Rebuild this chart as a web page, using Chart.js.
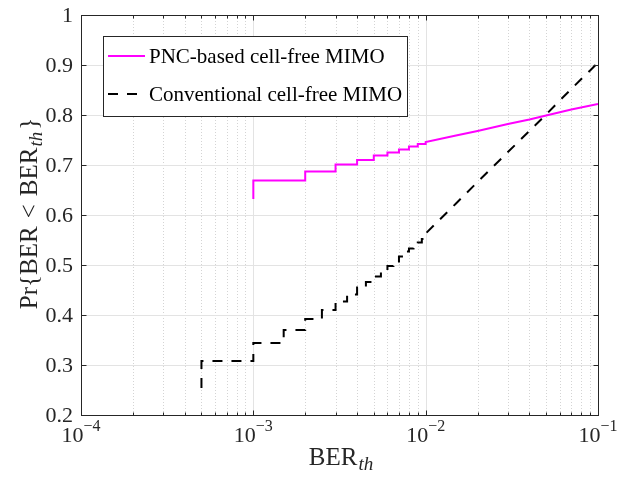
<!DOCTYPE html>
<html>
<head>
<meta charset="utf-8">
<script src="https://cdn.jsdelivr.net/npm/chart.js@4/dist/chart.umd.min.js"></script>
<style>
  body { margin: 0; background: #fff; }
</style>
</head>
<body>
<canvas id="cdf-chart" width="631" height="479"></canvas>
<script>
// PNC-based curve: start of the vertical jump, step points, then the dense tail
const pncStartY = 0.632;
const pncStepX = [1e-3, 2e-3, 3e-3, 4e-3, 5e-3, 6e-3, 7e-3, 8e-3, 9e-3, 1e-2];
const pncStepY = [0.669, 0.687, 0.701, 0.710, 0.719, 0.725, 0.731, 0.737, 0.742, 0.746];
const pncTailX = [1.5e-2, 2e-2, 3e-2, 4e-2, 5e-2, 7e-2, 1e-1];
const pncTailY = [0.759, 0.768, 0.782, 0.791, 0.799, 0.811, 0.822];

// conventional curve
const convStartY = 0.254;
const convStepX = [5e-4, 1e-3, 1.5e-3, 2e-3, 2.5e-3, 3e-3, 3.5e-3, 4e-3, 4.5e-3, 5e-3,
  5.5e-3, 6e-3, 6.5e-3, 7e-3, 7.5e-3, 8e-3, 8.5e-3, 9e-3, 9.5e-3, 1e-2];
const convStepY = [0.308, 0.344, 0.370, 0.392, 0.410, 0.427, 0.441, 0.455, 0.466, 0.477,
  0.488, 0.498, 0.507, 0.517, 0.527, 0.533, 0.539, 0.545, 0.552, 0.563];
const convTailX = [1.2e-2, 1.5e-2, 2e-2, 2.5e-2, 3e-2, 4e-2, 5e-2, 6e-2, 7e-2, 8e-2, 9e-2, 1e-1];
const convTailY = [0.590, 0.623, 0.666, 0.699, 0.726, 0.768, 0.801, 0.829, 0.852, 0.872, 0.889, 0.905];

const xDecades = [1e-4, 1e-3, 1e-2, 1e-1];
const xExponents = ["-4", "-3", "-2", "-1"];
const yTicks = [0.2, 0.3, 0.4, 0.5, 0.6, 0.7, 0.8, 0.9, 1];
const yTickLabels = ["0.2", "0.3", "0.4", "0.5", "0.6", "0.7", "0.8", "0.9", "1"];

const seriesNames = ["PNC-based cell-free MIMO", "Conventional cell-free MIMO"];

const SERIF = '"Liberation Serif", "DejaVu Serif", serif';
const AXIS_COLOR = "#262626";
const TITLE_FONT = "25px " + SERIF;
const SUB_FONT = "italic 19px " + SERIF;

function stairs(startY, stepX, stepY, tailX, tailY) {
  const pts = [{ x: stepX[0], y: startY }];
  stepX.forEach((x, i) => {
    if (i > 0) pts.push({ x: x, y: stepY[i - 1] });
    pts.push({ x: x, y: stepY[i] });
  });
  tailX.forEach((x, i) => pts.push({ x: x, y: tailY[i] }));
  return pts;
}

function minorTicks() {
  const out = [];
  for (let d = 0; d < xDecades.length - 1; d++) {
    for (let m = 2; m <= 9; m++) out.push(xDecades[d] * m);
  }
  return out;
}

// draws a run of [text, font, dx-before, dy] pieces starting at x, returns total width
function drawPieces(ctx, pieces, x, y, measureOnly) {
  let cur = x;
  pieces.forEach(([txt, font, gap, dy]) => {
    ctx.font = font;
    cur += gap;
    if (!measureOnly) ctx.fillText(txt, cur, y + dy);
    cur += ctx.measureText(txt).width;
  });
  return cur - x;
}

const matlabAxes = {
  id: "matlabAxes",
  beforeDatasetsDraw(chart) {
    const { ctx, chartArea: a, scales } = chart;
    ctx.save();
    ctx.lineWidth = 1;
    // minor grid, dotted
    ctx.strokeStyle = "#d4d4d4";
    ctx.setLineDash([1, 2]);
    minorTicks().forEach((v) => {
      const px = Math.round(scales.x.getPixelForValue(v)) + 0.5;
      ctx.beginPath();
      ctx.moveTo(px, a.top);
      ctx.lineTo(px, a.bottom);
      ctx.stroke();
    });
    // major grid
    ctx.setLineDash([]);
    ctx.strokeStyle = "#e3e3e3";
    xDecades.forEach((v) => {
      const px = Math.round(scales.x.getPixelForValue(v)) + 0.5;
      ctx.beginPath();
      ctx.moveTo(px, a.top);
      ctx.lineTo(px, a.bottom);
      ctx.stroke();
    });
    yTicks.forEach((v) => {
      const py = Math.round(scales.y.getPixelForValue(v)) + 0.5;
      ctx.beginPath();
      ctx.moveTo(a.left, py);
      ctx.lineTo(a.right, py);
      ctx.stroke();
    });
    ctx.restore();
  },
  afterDatasetsDraw(chart) {
    const { ctx, chartArea: a, scales } = chart;
    const L = Math.round(a.left) + 0.5, R = Math.round(a.right) + 0.5;
    const T = Math.round(a.top) + 0.5, B = Math.round(a.bottom) + 0.5;
    ctx.save();
    ctx.strokeStyle = AXIS_COLOR;
    ctx.lineWidth = 1;
    ctx.strokeRect(L, T, R - L, B - T);

    // tick marks, inward, on all four sides
    ctx.beginPath();
    xDecades.forEach((v) => {
      const px = Math.round(scales.x.getPixelForValue(v)) + 0.5;
      ctx.moveTo(px, B); ctx.lineTo(px, B - 5);
      ctx.moveTo(px, T); ctx.lineTo(px, T + 5);
    });
    minorTicks().forEach((v) => {
      const px = Math.round(scales.x.getPixelForValue(v)) + 0.5;
      ctx.moveTo(px, B); ctx.lineTo(px, B - 3);
      ctx.moveTo(px, T); ctx.lineTo(px, T + 3);
    });
    yTicks.forEach((v) => {
      const py = Math.round(scales.y.getPixelForValue(v)) + 0.5;
      ctx.moveTo(L, py); ctx.lineTo(L + 5, py);
      ctx.moveTo(R, py); ctx.lineTo(R - 5, py);
    });
    ctx.stroke();

    // y tick labels
    ctx.fillStyle = AXIS_COLOR;
    ctx.font = "22px " + SERIF;
    ctx.textAlign = "right";
    ctx.textBaseline = "alphabetic";
    yTicks.forEach((v, i) => {
      ctx.fillText(yTickLabels[i], a.left - 8, scales.y.getPixelForValue(v) + 7);
    });

    // x tick labels 10^k
    ctx.textAlign = "left";
    xDecades.forEach((v, i) => {
      const px = scales.x.getPixelForValue(v);
      const sup = "\u2212" + xExponents[i].slice(1);
      const pieces = [["10", "22px " + SERIF, 0, 0], [sup, "16px " + SERIF, 0, -11]];
      const w = drawPieces(ctx, pieces, 0, 0, true);
      drawPieces(ctx, pieces, px - w / 2, a.bottom + 27, false);
    });

    // x title BER_th
    const xt = [["BER", TITLE_FONT, 0, 0], ["th", SUB_FONT, 1, 5]];
    const wx = drawPieces(ctx, xt, 0, 0, true);
    drawPieces(ctx, xt, 341 - wx / 2, a.bottom + 50, false);

    // y title Pr{BER < BER_th}
    ctx.save();
    ctx.translate(37, 213.5);
    ctx.rotate(-Math.PI / 2);
    const yt = [
      ["Pr{BER", TITLE_FONT, 0, 0],
      ["<", TITLE_FONT, 8, 0],
      ["BER", TITLE_FONT, 8, 0],
      ["th", SUB_FONT, 1, 5],
      ["}", TITLE_FONT, 2, 0],
    ];
    const wy = drawPieces(ctx, yt, 0, 0, true);
    drawPieces(ctx, yt, -wy / 2, 0, false);
    ctx.restore();

    // legend box
    const bx = 103.5, by = 36.5, bw = 304, bh = 80;
    ctx.fillStyle = "#fff";
    ctx.fillRect(bx, by, bw, bh);
    ctx.strokeStyle = AXIS_COLOR;
    ctx.lineWidth = 1;
    ctx.strokeRect(bx, by, bw, bh);
    ctx.font = "21px " + SERIF;
    ctx.textBaseline = "alphabetic";
    chart.data.datasets.forEach((ds, i) => {
      const ly = 56 + i * 38;
      ctx.save();
      ctx.strokeStyle = ds.borderColor;
      ctx.lineWidth = ds.borderWidth;
      ctx.setLineDash(ds.borderDash || []);
      ctx.beginPath();
      ctx.moveTo(108, ly);
      ctx.lineTo(145, ly);
      ctx.stroke();
      ctx.restore();
      ctx.fillStyle = "#000";
      ctx.fillText(ds.label, 149, ly + 7);
    });
    ctx.restore();
  },
};

new Chart(document.querySelector("#cdf-chart").getContext("2d"), {
  type: "line",
  data: {
    datasets: [
      {
        label: seriesNames[0],
        data: stairs(pncStartY, pncStepX, pncStepY, pncTailX, pncTailY),
        borderColor: "#ff00ff",
        borderWidth: 2,
        pointRadius: 0,
        tension: 0,
      },
      {
        label: seriesNames[1],
        data: stairs(convStartY, convStepX, convStepY, convTailX, convTailY),
        borderColor: "#000000",
        borderWidth: 2,
        borderDash: [10, 9],
        pointRadius: 0,
        tension: 0,
      },
    ],
  },
  options: {
    responsive: false,
    animation: false,
    parsing: false,
    layout: { padding: { left: 81, right: 33, top: 15, bottom: 64 } },
    scales: {
      x: { type: "logarithmic", min: 1e-4, max: 1e-1, display: false },
      y: { type: "linear", min: 0.2, max: 1, display: false },
    },
    plugins: { legend: { display: false }, tooltip: { enabled: false } },
  },
  plugins: [matlabAxes],
});
</script>
</body>
</html>
